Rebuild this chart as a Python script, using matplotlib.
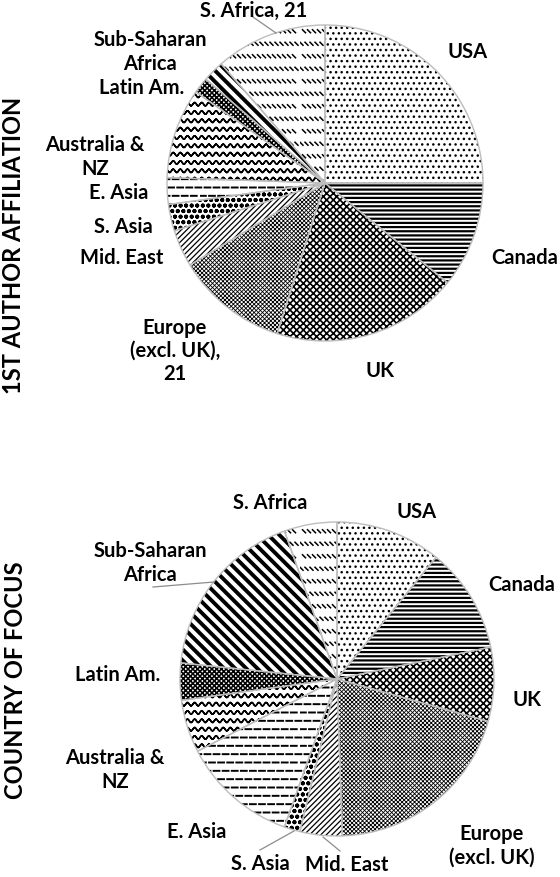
import warnings
import numpy as np
import matplotlib
matplotlib.use("Agg")
import matplotlib.pyplot as plt
import matplotlib.hatch as mhatch
from matplotlib.path import Path
from matplotlib.lines import Line2D

warnings.filterwarnings("ignore")

# ---------------- data ----------------
regions = ["USA", "Canada", "UK", "Europe (excl. UK)", "Mid. East", "S. Asia",
           "E. Asia", "Australia & NZ", "Latin Am.", "Sub-Saharan Africa", "S. Africa"]
affiliation_counts = [46, 20, 35, 21, 7, 5, 5, 17, 3, 4, 21]
focus_counts = [20, 20, 14, 37, 8, 3, 22, 10, 7, 33, 10]
row_titles = ["1ST AUTHOR AFFILIATION", "COUNTRY OF FOCUS"]

# ---------------- custom hatch textures ----------------
class _SegHatch(mhatch.HatchPatternBase):
    char = None

    def __init__(self, hatch, density):
        n = hatch.count(self.char) if hatch else 0
        self._segs = self.make(n) if n else []
        self.num_vertices = int(sum(len(s) for s in self._segs))

    def make(self, n):
        return []

    def set_vertices_and_codes(self, vertices, codes):
        i = 0
        for s in self._segs:
            k = len(s)
            vertices[i:i + k] = s
            codes[i] = Path.MOVETO
            codes[i + 1:i + k] = Path.LINETO
            i += k


class WaveHatch(_SegHatch):
    char = "~"

    def make(self, n):
        rows = 6 * n
        t = np.linspace(0, 1, 141)
        segs = []
        for r in range(rows):
            y0 = (r + 0.5) / rows
            y = y0 + 0.017 * np.sin(2 * np.pi * 14 * t)
            fwd = np.column_stack([t, y])
            segs.append(np.vstack([fwd, fwd[::-1]]))
        return segs


class DashHatch(_SegHatch):
    char = "_"

    def make(self, n):
        rows = 6 * n
        m, L = 11, 0.058
        segs = []
        for r in range(rows):
            y0 = (r + 0.5) / rows
            shift = 0.0 if r % 2 == 0 else 0.5 / m
            for j in range(-1, m + 1):
                x0 = max(0.0, j / m + shift)
                x1 = min(1.0, j / m + shift + L)
                if x1 - x0 > 0.004:
                    segs.append(np.array([[x0, y0], [x1, y0]]))
        return segs


class BackDashHatch(_SegHatch):
    char = ":"

    def make(self, n):
        rows = 4 * n
        m, h = 20, 0.03
        segs = []
        for r in range(rows):
            y0 = (r + 0.5) / rows
            shift = 0.0 if r % 2 == 0 else 0.5 / m
            for j in range(m):
                x0 = j / m + shift
                if x0 + h <= 1.0:
                    segs.append(np.array([[x0, y0 + h / 2], [x0 + h, y0 - h / 2]]))
        return segs


mhatch._hatch_types.extend([WaveHatch, DashHatch, BackDashHatch])

# per-region textures (style)
hatches = ["...", "----", "xxxxx", "x" * 8, "//////", "ooo", "__", "~~", "x" * 7,
           "\\\\\\", "::"]
hatch_lw = [1.0, 1.6, 1.2, 0.6, 0.9, 1.3, 1.4, 1.1, 1.15, 2.8, 1.1]

# ---------------- figure ----------------
W, H = 560, 878
FONT = ["Lato", "DejaVu Sans"]
plt.rcParams["font.family"] = FONT
fig = plt.figure(figsize=(W / 100, H / 100), dpi=100)

def add_pie_axes(cx, cy, r, L=1.6):
    side = 2 * L * r
    ax = fig.add_axes([(cx - side / 2) / W, (H - cy - side / 2) / H, side / W, side / H])
    return ax, L

def draw_pie(ax, L, values):
    wedges, _ = ax.pie(values, startangle=90, counterclock=False, radius=1,
                       colors=["white"] * len(values),
                       wedgeprops=dict(linewidth=0, edgecolor="black"))
    for w, h, lw in zip(wedges, hatches, hatch_lw):
        w.set_hatch(h)
        if hasattr(w, "set_hatch_linewidth"):
            w.set_hatch_linewidth(lw)
    ax.pie(values, startangle=90, counterclock=False, radius=1,
           colors=["none"] * len(values),
           wedgeprops=dict(linewidth=1.0, edgecolor="#bdbdbd"))
    ax.set_xlim(-L, L)
    ax.set_ylim(-L, L)
    ax.set_aspect("equal")
    ax.axis("off")

def label(x, y, s, size=14.5):
    fig.text(x / W, 1 - y / H, s, ha="center", va="center", fontsize=size,
             fontweight="bold", family=FONT, linespacing=1.2)

def leader(x1, y1, x2, y2):
    fig.add_artist(Line2D([x1 / W, x2 / W], [1 - y1 / H, 1 - y2 / H],
                          transform=fig.transFigure, color="#8c8c8c", lw=0.9))

# top pie
ax1, L1 = add_pie_axes(325, 184, 158)
draw_pie(ax1, L1, affiliation_counts)
# bottom pie
ax2, L2 = add_pie_axes(337, 680, 157)
draw_pie(ax2, L2, focus_counts)

# row titles
fig.text(14 / W, 1 - 245 / H, row_titles[0], rotation=90, ha="center", va="center",
         fontsize=17, fontweight="bold", family=FONT)
fig.text(16 / W, 1 - 680 / H, row_titles[1], rotation=90, ha="center", va="center",
         fontsize=17, fontweight="bold", family=FONT)

# top pie labels
label(254, 11, "S. Africa, " + str(affiliation_counts[10]))
leader(253, 18, 276, 34)
label(468, 52, "USA")
label(525, 258, "Canada")
label(380, 371, "UK")
label(175, 351, "Europe\n(excl. UK),\n" + str(affiliation_counts[3]))
label(122, 258, "Mid. East")
label(123, 227, "S. Asia")
label(119, 193, "E. Asia")
label(95, 157, "Australia &\nNZ")
label(142, 88, "Latin Am.")
label(150, 52, "Sub-Saharan\nAfrica")

# bottom pie labels
label(270, 503, "S. Africa")
label(417, 512, "USA")
label(522, 585, "Canada")
label(527, 700, "UK")
label(492, 846, "Europe\n(excl. UK)")
label(347, 865, "Mid. East")
label(260, 864, "S. Asia")
label(197, 832, "E. Asia")
label(115, 770, "Australia &\nNZ")
label(118, 675, "Latin Am.")
label(150, 563, "Sub-Saharan\nAfrica")
leader(153, 588, 214, 583)
leader(260, 851, 294, 832)
leader(340, 852, 323, 838)

fig.savefig("out.png", dpi=100, facecolor="white")
